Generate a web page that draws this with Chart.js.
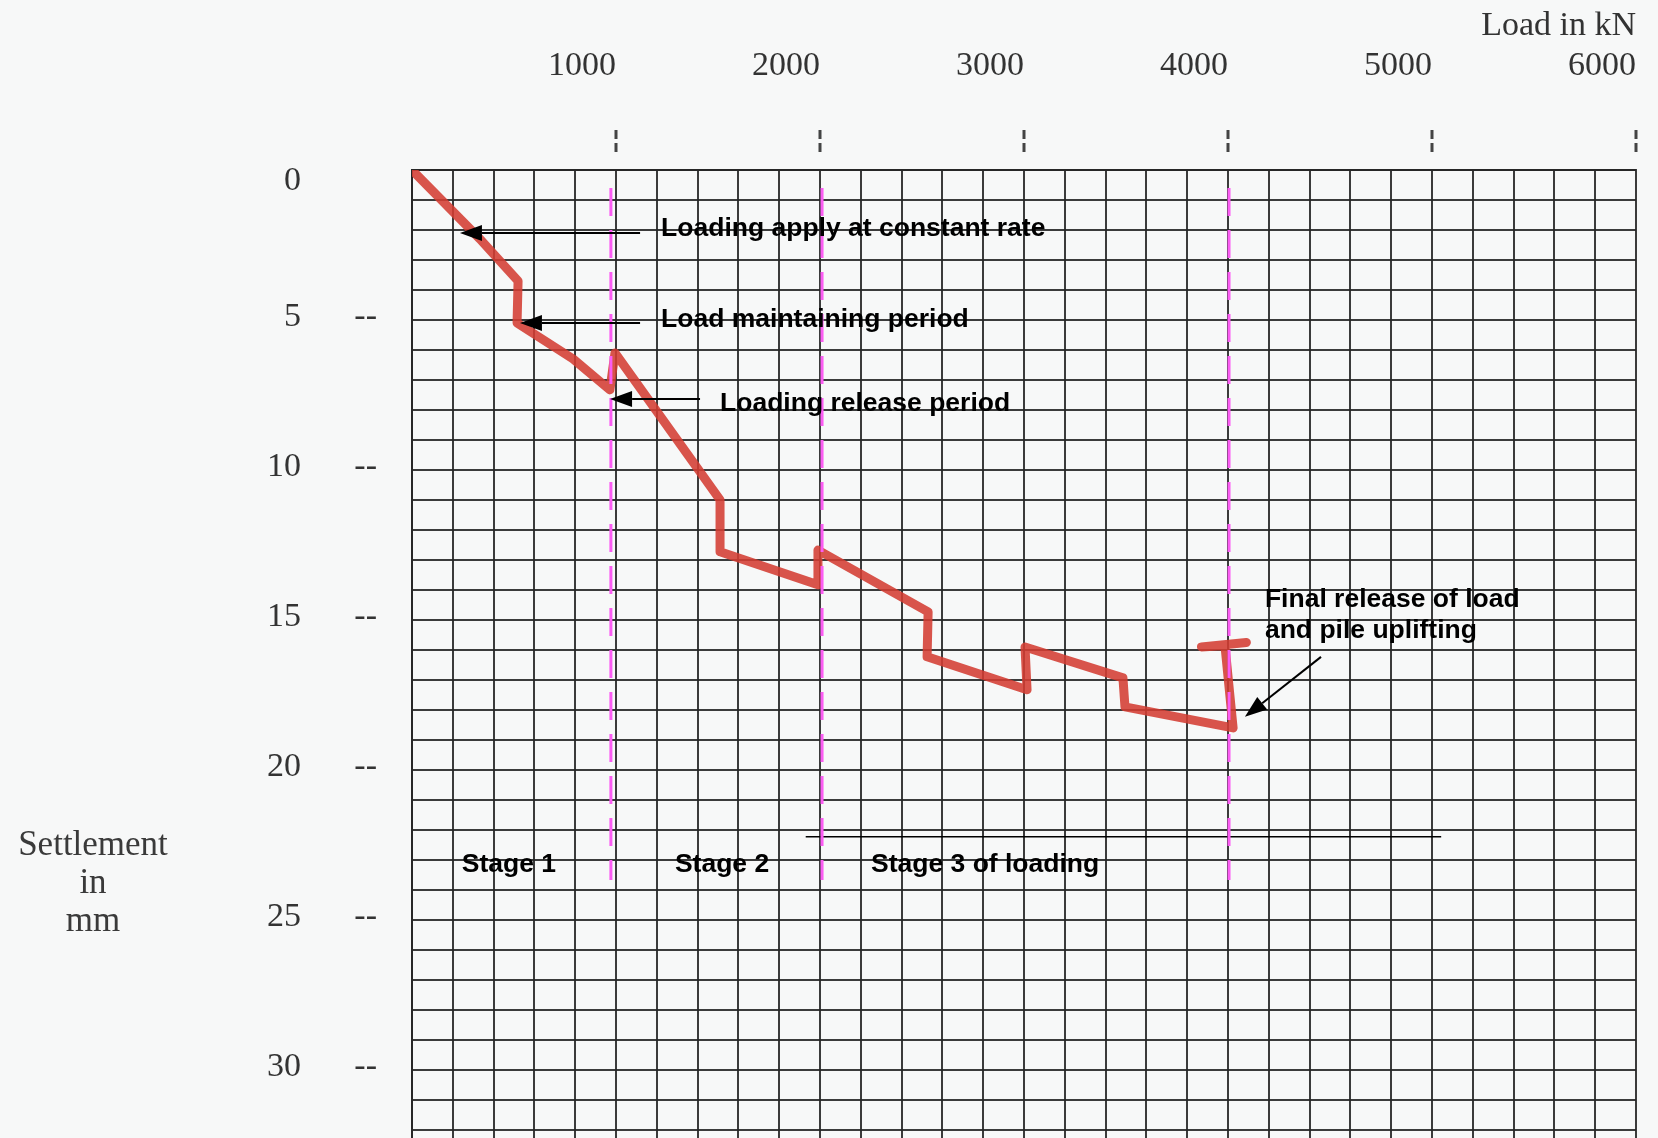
<!DOCTYPE html>
<html>
<head>
<meta charset="utf-8">
<script src="https://cdn.jsdelivr.net/npm/chart.js@4.4.1/dist/chart.umd.min.js"></script>
<style>
  html, body { margin: 0; padding: 0; background: #f7f8f8; }
  #wrap { width: 1658px; height: 1138px; position: relative; }
</style>
</head>
<body>
<div id="wrap"><canvas id="pile-chart"></canvas></div>
<script>
// Load / settlement readings (kN, mm)
const loadKN = [0, 333, 520, 515, 790, 970, 995, 1510, 1510, 1990, 1990, 2530, 2525, 3015, 3005, 3485, 3495, 4025, 3985, 3870, 4090];
const settlementMM = [0, 2.3, 3.7, 5.1, 6.3, 7.33, 6.1, 11.0, 12.73, 13.83, 12.67, 14.73, 16.23, 17.33, 15.9, 16.93, 17.9, 18.6, 15.85, 15.9, 15.75];

// stage boundaries (kN) and axis ticks
const stageBoundaryKN = [975, 2010, 4005];
const loadTicks = [1000, 2000, 3000, 4000, 5000, 6000];
const settlementTicks = [0, 5, 10, 15, 20, 25, 30];
const loadMax = 6000;
const settlementMax = 32.27;

// annotation text and arrows, in chart units (kN, mm)
const arrowNotes = [
  { text: ['Loading apply at constant rate'], textAt: [1221, 1.97], tail: [1118, 2.1], head: [235, 2.1] },
  { text: ['Load maintaining period'], textAt: [1221, 5.0], tail: [1118, 5.1], head: [529, 5.1] },
  { text: ['Loading release period'], textAt: [1510, 7.8], tail: [1412, 7.63], head: [971, 7.63] },
  { text: ['Final release of load', 'and pile uplifting'], textAt: [4181, 14.33], tail: [4456, 16.23], head: [4083, 18.23] },
];
const stageNotes = [
  { text: 'Stage 1', at: [475, 23.17], align: 'center' },
  { text: 'Stage 2', at: [1520, 23.17], align: 'center' },
  { text: 'Stage 3 of loading', at: [2250, 23.17], align: 'left' },
];
const stage3SpanKN = [1930, 5045];
const stage3SpanMM = 22.23;
const stageLineMM = [0.6, 23.67];

const gridColor = 'rgba(38,38,38,0.9)';
const inkColor = '#333';
const serif = '"Liberation Serif", "Times New Roman", serif';

function drawArrow(ctx, from, to) {
  const ang = Math.atan2(to[1] - from[1], to[0] - from[0]);
  const len = 22, half = 8;
  const bx = to[0] - len * Math.cos(ang), by = to[1] - len * Math.sin(ang);
  ctx.lineWidth = 2;
  ctx.beginPath();
  ctx.moveTo(from[0], from[1]);
  ctx.lineTo(bx, by);
  ctx.stroke();
  ctx.beginPath();
  ctx.moveTo(to[0], to[1]);
  ctx.lineTo(bx + half * Math.sin(ang), by - half * Math.cos(ang));
  ctx.lineTo(bx - half * Math.sin(ang), by + half * Math.cos(ang));
  ctx.closePath();
  ctx.fill();
}

const notesPlugin = {
  id: 'notes',
  afterDatasetsDraw(chart) {
    const { ctx, scales: { x, y } } = chart;
    const px = p => [x.getPixelForValue(p[0]), y.getPixelForValue(p[1])];
    ctx.save();
    ctx.fillStyle = '#000';
    ctx.strokeStyle = '#000';
    ctx.font = 'bold 26.5px "Liberation Sans", Arial, sans-serif';
    ctx.textBaseline = 'middle';
    arrowNotes.forEach(n => {
      const [tx, ty] = px(n.textAt);
      ctx.textAlign = 'left';
      n.text.forEach((line, i) => ctx.fillText(line, tx, ty + i * 31));
      drawArrow(ctx, px(n.tail), px(n.head));
    });
    stageNotes.forEach(n => {
      const [tx, ty] = px(n.at);
      ctx.textAlign = n.align;
      ctx.fillText(n.text, tx, ty);
    });
    ctx.restore();
  },
  afterDraw(chart) {
    const ctx = chart.ctx;
    ctx.save();
    ctx.fillStyle = '#3a3a3a';
    ctx.font = '35px ' + serif;
    ctx.textAlign = 'center';
    ctx.textBaseline = 'middle';
    ['Settlement', 'in', 'mm'].forEach((t, i) => ctx.fillText(t, 93, 846 + i * 38));
    ctx.restore();
  }
};

const datasets = [
  {
    data: loadKN.map((v, i) => ({ x: v, y: settlementMM[i] })),
    borderColor: 'rgba(212,60,50,0.88)',
    borderWidth: 9,
    borderJoinStyle: 'round',
    borderCapStyle: 'round',
    pointRadius: 0,
    tension: 0,
    order: 3,
  },
  ...stageBoundaryKN.map(kn => ({
    data: stageLineMM.map(mm => ({ x: kn, y: mm })),
    borderColor: '#fb5cf3',
    borderWidth: 3,
    borderDash: [28, 14],
    pointRadius: 0,
    order: 1,
  })),
  {
    data: stage3SpanKN.map(kn => ({ x: kn, y: stage3SpanMM })),
    borderColor: '#000',
    borderWidth: 1.5,
    pointRadius: 0,
    order: 2,
  },
];

const ctx = document.getElementById('pile-chart').getContext('2d');
new Chart(ctx, {
  type: 'line',
  data: { datasets },
  plugins: [notesPlugin],
  options: {
    responsive: true,
    maintainAspectRatio: false,
    animation: false,
    layout: { padding: { top: 0, right: 22, bottom: 0, left: 0 } },
    plugins: { legend: { display: false }, tooltip: { enabled: false } },
    scales: {
      x: {
        type: 'linear',
        position: 'top',
        min: 0,
        max: loadMax,
        afterFit(s) { s.height = 170; s.paddingLeft = 0; s.paddingRight = 0; },
        grid: {
          color: gridColor,
          lineWidth: 2,
          tickLength: 40,
          tickWidth: 3,
          tickColor: c => (c.tick && loadTicks.includes(c.tick.value)) ? '#444' : 'rgba(0,0,0,0)',
          tickBorderDash: [9, 4, 9, 200],
        },
        border: { color: gridColor, width: 2 },
        ticks: {
          stepSize: 200,
          autoSkip: false,
          maxRotation: 0,
          align: 'end',
          padding: 44,
          callback: v => loadTicks.includes(v) ? String(v) : '',
          font: { family: serif, size: 34 },
          color: inkColor,
        },
        title: {
          display: true,
          text: 'Load in kN',
          align: 'end',
          font: { family: serif, size: 34 },
          color: inkColor,
          padding: { top: 6, bottom: 0 },
        },
      },
      y: {
        type: 'linear',
        position: 'left',
        weight: 0,
        reverse: true,
        min: 0,
        max: settlementMax,
        afterFit(s) { s.width = 60; s.paddingTop = 0; s.paddingBottom = 0; },
        grid: { color: gridColor, lineWidth: 2, drawTicks: false },
        border: { color: gridColor, width: 2 },
        ticks: {
          stepSize: 1,
          includeBounds: false,
          autoSkip: false,
          padding: 35,
          labelOffset: -3,
          callback: v => (settlementTicks.includes(v) && v > 0) ? '--' : '',
          font: { family: serif, size: 34 },
          color: inkColor,
        },
      },
      yNum: {
        type: 'linear',
        position: 'left',
        weight: 1,
        reverse: true,
        min: 0,
        max: settlementMax,
        afterFit(s) { s.width = 352; s.paddingTop = 0; s.paddingBottom = 0; },
        grid: { display: false },
        border: { display: false },
        ticks: {
          stepSize: 1,
          includeBounds: false,
          autoSkip: false,
          padding: 43,
          labelOffset: -3,
          // the 0 label sits a little below its grid line in the original
          callback: v => v === 0 ? ['', '0'] : (settlementTicks.includes(v) ? String(v) : ''),
          font: c => ({ family: serif, size: 34, lineHeight: c.tick && c.tick.value === 0 ? 0.85 : 1.2 }),
          color: inkColor,
        },
      },
    },
  },
});
</script>
</body>
</html>
